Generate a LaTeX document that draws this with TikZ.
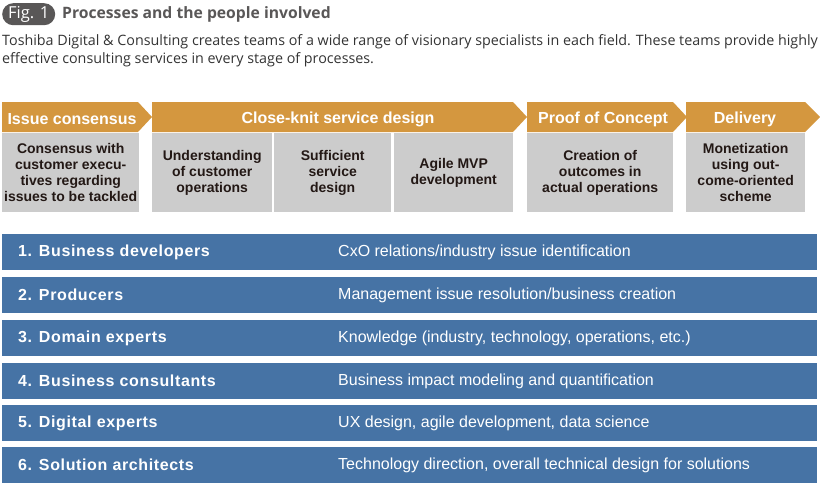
\documentclass[tikz,border=0pt]{standalone}
\usepackage{fontspec}
\setmainfont{Liberation Sans}
\newfontfamily\leadfont{Open Sans}
\newfontfamily\rowfont[LetterSpace=4]{Liberation Sans}
\usetikzlibrary{positioning}
\definecolor{tdorange}{RGB}{212,151,63}
\definecolor{tdgray}{RGB}{204,204,204}
\definecolor{tdblue}{RGB}{70,115,165}
\definecolor{tddark}{RGB}{35,24,21}
\definecolor{tdbadge}{RGB}{89,87,87}
\definecolor{tdtext}{RGB}{51,51,51}

\begin{document}
\begin{tikzpicture}[
    x=1pt,y=-1pt,
    hdr/.style={fill=tdorange},
    hdrtext/.style={text=white,font=\fontsize{16}{18}\selectfont\bfseries,inner sep=0pt},
    cell/.style={fill=tdgray,anchor=north west,inner sep=0pt,minimum height=79pt,align=center,text=tddark,font=\fontsize{14}{16}\selectfont\bfseries},
    band/.style={fill=tdblue,anchor=north west,inner sep=0pt,minimum width=815pt,minimum height=36pt},
    role/.style={anchor=west,text=white,inner sep=0pt,font=\fontsize{16}{18}\rowfont\bfseries},
    task/.style={anchor=west,text=white,inner sep=0pt,font=\fontsize{16}{18}\selectfont}
  ]
    \useasboundingbox (0,0) rectangle (820,483);
    % title and lead text
    \node[fill=tdbadge,rounded corners=11pt,anchor=north west,minimum width=53pt,minimum height=22pt,inner sep=0pt,text=white,font=\fontsize{16.5}{18}\leadfont] (fig) at (2,3) {Fig. 1};
    \node[anchor=west,inner sep=0pt,text=tdbadge,font=\fontsize{15.7}{18}\leadfont\bfseries] (title) at (62,14) {Processes and the people involved};
    \node[anchor=north west,inner sep=0pt,align=left,text=tdtext,font=\fontsize{14.3}{18}\leadfont] (lead) at (2,34) {Toshiba Digital \& Consulting creates teams of a wide range of visionary specialists in each field. These teams provide highly\\effective consulting services in every stage of processes.};
    % process headers
    \fill[hdr] (2,102) -- (138,102) -- (152,117) -- (138,132) -- (2,132) -- cycle;
    \fill[hdr] (152,102) -- (513,102) -- (527,117) -- (513,132) -- (152,132) -- cycle;
    \fill[hdr] (527,102) -- (673,102) -- (687,117) -- (673,132) -- (527,132) -- cycle;
    \fill[hdr] (686,102) -- (805,102) -- (820,117) -- (805,132) -- (686,132) -- cycle;
    \node[hdrtext] (issue) at (72,119) {Issue consensus};
    \node[hdrtext] (design) at (338,119) {Close-knit service design};
    \node[hdrtext] (poc) at (603,119) {Proof of Concept};
    \node[hdrtext] (delivery) at (745,119) {Delivery};
    % process contents
    \node[cell,minimum width=137pt] (consensus) at (2,133) {Consensus with\\customer execu-\\tives regarding\\issues to be tackled};
    \node[cell,minimum width=120pt] (understand) at (152,133) {Understanding\\of customer\\operations};
    \node[cell,minimum width=117pt] (sufficient) at (274,133) {Sufficient\\service\\design};
    \node[cell,minimum width=119pt] (agile) at (394,133) {Agile MVP\\development};
    \node[cell,minimum width=146pt] (outcomes) at (527,133) {Creation of\\outcomes in\\actual operations};
    \node[cell,minimum width=119pt] (monetize) at (686,133) {Monetization\\using out-\\come-oriented\\scheme};
    % people involved
    \node[band] (r1) at (2,234) {};
    \node[band] (r2) at (2,277) {};
    \node[band] (r3) at (2,320) {};
    \node[band] (r4) at (2,363) {};
    \node[band] (r5) at (2,405) {};
    \node[band] (r6) at (2,447) {};
    \node[role] (bizdev) at ([xshift=16pt]r1.west) {1. Business developers};
    \node[role] (prod) at ([xshift=16pt]r2.west) {2. Producers};
    \node[role] (domain) at ([xshift=16pt]r3.west) {3. Domain experts};
    \node[role] (consult) at ([xshift=16pt]r4.west) {4. Business consultants};
    \node[role] (digital) at ([xshift=16pt]r5.west) {5. Digital experts};
    \node[role] (arch) at ([xshift=16pt]r6.west) {6. Solution architects};
    \node[task] (cxo) at ([xshift=336pt]r1.west) {CxO relations/industry issue identification};
    \node[task] (mgmt) at ([xshift=336pt]r2.west) {Management issue resolution/business creation};
    \node[task] (know) at ([xshift=336pt]r3.west) {Knowledge (industry, technology, operations, etc.)};
    \node[task] (impact) at ([xshift=336pt]r4.west) {Business impact modeling and quantification};
    \node[task] (ux) at ([xshift=336pt]r5.west) {UX design, agile development, data science};
    \node[task] (tech) at ([xshift=336pt]r6.west) {Technology direction, overall technical design for solutions};
  \end{tikzpicture}
\end{document}
